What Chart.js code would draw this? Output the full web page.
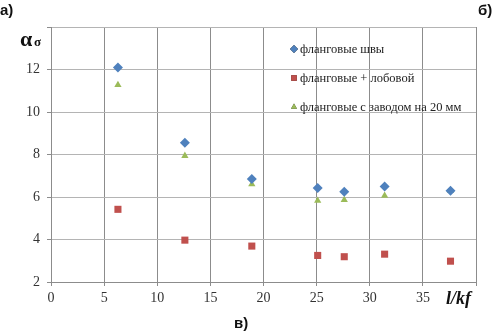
<!DOCTYPE html>
<html>
<head>
<meta charset="utf-8">
<script src="https://cdn.jsdelivr.net/npm/chart.js@4/dist/chart.umd.min.js"></script>
<style>
  html, body { margin: 0; padding: 0; background: #fff; }
  #wrap { position: relative; width: 496px; height: 332px; }
</style>
</head>
<body>
<div id="wrap"><canvas id="c" width="496" height="332"></canvas></div>
<script>
// l/kf positions of the specimens
const xVals = [6.3, 12.6, 18.9, 25.1, 27.6, 31.4, 37.6];
// alpha_sigma per series
const flangeOnly  = [12.1, 8.55, 6.85, 6.42, 6.25, 6.5, 6.3];
const flangeFront = [5.42, 3.97, 3.69, 3.25, 3.19, 3.31, 2.98];
const flangeLap   = [11.27, 7.94, 6.6, 5.83, 5.86, 6.06, 6.3];

const seriesNames = ['фланговые швы', 'фланговые + лобовой', 'фланговые с заводом на 20 мм'];
const colors = ['#4F81BD', '#C0504D', '#9BBB59'];
const styles = ['rectRot', 'rect', 'triangle'];
const radii = [5, 5, 4.2];

const SERIF = '"Liberation Serif", "Times New Roman", serif';

function pts(ys) { return xVals.map((x, i) => ({ x: x, y: ys[i] })); }

// legend inside the plot + axis titles + panel letters
const extras = {
  id: 'extras',
  afterDatasetsDraw(chart) {
    const ctx = chart.ctx;
    ctx.save();
    // legend
    const rows = [49, 78, 107];
    seriesNames.forEach((name, i) => {
      Chart.helpers.drawPoint(ctx, {
        pointStyle: styles[i], radius: i === 2 ? 3.5 : 4, borderWidth: 0
      }, 294, rows[i]);
      ctx.fillStyle = colors[i];
      ctx.fill();
      ctx.fillStyle = '#222';
      ctx.font = '12.5px ' + SERIF;
      ctx.textBaseline = 'middle';
      ctx.textAlign = 'left';
      ctx.fillText(name, 300, rows[i] + 1);
    });
    // y axis title
    ctx.fillStyle = '#111';
    ctx.textBaseline = 'alphabetic';
    ctx.font = 'bold 22px ' + SERIF;
    ctx.fillText('α', 20, 46);
    ctx.font = 'bold 13px ' + SERIF;
    ctx.fillText('σ', 34, 46);
    // x axis title
    ctx.font = 'italic bold 18px ' + SERIF;
    ctx.fillText('l/kf', 446, 304);
    // panel letters
    ctx.font = 'bold 15px "Liberation Sans", Arial, sans-serif';
    ctx.fillText('а)', 0, 15);
    ctx.fillText('б)', 478, 15);
    ctx.fillText('в)', 234, 328);
    ctx.restore();
  }
};

new Chart(document.getElementById('c'), {
  type: 'scatter',
  data: {
    datasets: [
      { label: seriesNames[0], data: pts(flangeOnly) },
      { label: seriesNames[1], data: pts(flangeFront) },
      { label: seriesNames[2], data: pts(flangeLap) }
    ].map((d, i) => Object.assign(d, {
      pointStyle: styles[i],
      pointRadius: radii[i],
      pointBackgroundColor: colors[i],
      pointBorderColor: colors[i],
      pointBorderWidth: 0
    }))
  },
  options: {
    responsive: false,
    animation: false,
    events: [],
    layout: { padding: { top: 27, right: 20, left: 0, bottom: 0 } },
    plugins: { legend: { display: false }, tooltip: { enabled: false } },
    scales: {
      x: {
        type: 'linear', min: 0, max: 40,
        afterFit(s) { s.height = 50; },
        ticks: {
          stepSize: 5, padding: 4,
          color: '#333', font: { family: SERIF, size: 14 },
          callback: v => (v === 40 ? '' : v)
        },
        grid: { color: '#8c8c8c', lineWidth: 1, tickLength: 4, tickColor: '#8c8c8c' },
        border: { color: '#8c8c8c' }
      },
      y: {
        type: 'linear', min: 2, max: 14,
        afterFit(s) { s.width = 51; },
        ticks: {
          stepSize: 2, padding: 7,
          color: '#333', font: { family: SERIF, size: 14 },
          callback: v => (v === 14 ? '' : v)
        },
        grid: { color: '#b4b4b4', lineWidth: 1, tickLength: 4, tickColor: '#8c8c8c' },
        border: { color: '#8c8c8c' }
      }
    }
  },
  plugins: [extras]
});
</script>
</body>
</html>
